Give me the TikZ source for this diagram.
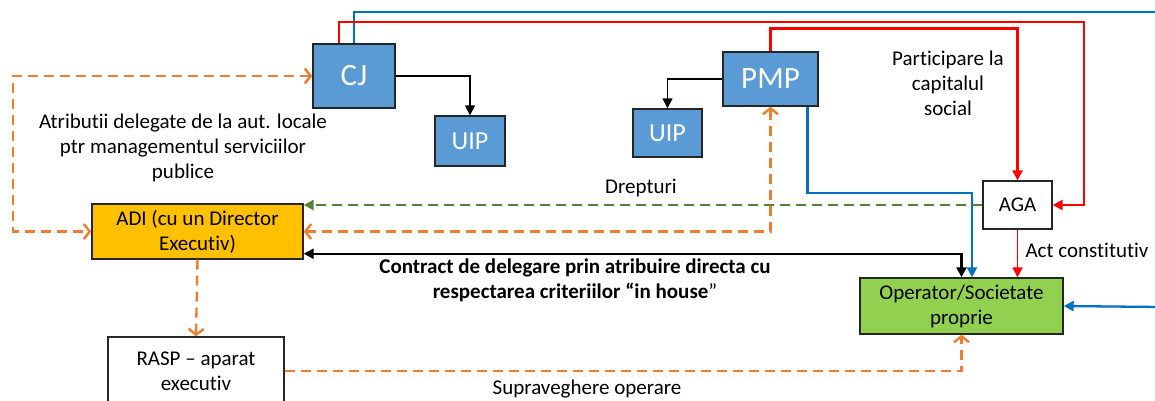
\documentclass[tikz,border=0pt]{standalone}
\usepackage{fontspec}
\setmainfont{Carlito}[Ligatures=CommonOff]
\usetikzlibrary{arrows.meta,calc}
\definecolor{boxblue}{HTML}{5B9BD5}
\definecolor{lineblue}{HTML}{0070C0}
\definecolor{adiyellow}{HTML}{FFC000}
\definecolor{opgreen}{HTML}{92D050}
\definecolor{flowred}{HTML}{FF0000}
\definecolor{flowgreen}{HTML}{548235}
\definecolor{floworange}{HTML}{ED7D31}
\begin{document}
\begin{tikzpicture}[x=1pt, y=-1pt, font=\fontsize{21}{25}\selectfont,
    >={Triangle[length=10pt,width=10pt]},
    box/.style = {draw=black!85, line width=1.4pt, align=center, inner sep=1pt},
    unit/.style = {box, fill=boxblue, text=white},
    conn/.style = {line width=1.5pt},
    redline/.style = {draw=flowred, line width=2.6pt},
    blueline/.style = {draw=lineblue, line width=2.3pt},
    dashline/.style = {line width=2.4pt, dash pattern=on 10pt off 6pt},
    orangeflow/.style = {dashline, draw=floworange, >={Straight Barb[length=6pt,width=15pt]}},
    greenflow/.style = {dashline, draw=flowgreen}]
  \useasboundingbox (0,0) rectangle (1155,400);

  \node[unit, minimum width=82pt, minimum height=64pt, font=\fontsize{31}{33}\selectfont] (cj) at (354,76) {CJ};
  \node[unit, minimum width=70pt, minimum height=50pt, font=\fontsize{26}{28}\selectfont] (uipa) at (470,141) {UIP};
  \node[unit, minimum width=95pt, minimum height=54pt, font=\fontsize{31}{33}\selectfont] (pmp) at (770.5,79) {PMP};
  \node[unit, minimum width=69pt, minimum height=48pt, font=\fontsize{26}{28}\selectfont] (uipb) at (667.5,133) {UIP};
  \node[box, fill=white, minimum width=69pt, minimum height=48pt] (aga) at (1017.5,205) {AGA};
  \node[box, fill=opgreen, minimum width=203pt, minimum height=56pt] (operator) at (961.5,306) {Operator/Societate\\proprie};
  \node[box, fill=adiyellow, minimum width=211pt, minimum height=55pt] (adi) at (197.5,231.5) {ADI (cu un Director\\Executiv)};
  \node[box, fill=white, minimum width=176pt, minimum height=68pt] (rasp) at (196,371) {RASP -- aparat\\executiv};

  \node[align=center] (atributii) at (183,148) {Atributii delegate de la aut. locale\\ptr managementul serviciilor\\publice};
  \node (drepturi) at (641,188) {Drepturi};
  \node[align=center] (participare) at (948,83) {Participare la\\capitalul\\social};
  \node[anchor=west] (act) at (1022,250) {Act constitutiv};
  \node[align=center, font=\fontsize{21}{25}\selectfont\bfseries] (contract) at (575,280) {Contract de delegare prin atribuire directa cu\\respectarea criteriilor \textquotedblleft in house{\mdseries\textquotedblright}};
  \node (supraveghere) at (587,389) {Supraveghere operare};

  \coordinate (topblue) at (1160,12);
  \coordinate (rightblue) at (1160,307);
  \coordinate (leftloop) at (13,0);

  \draw[conn, ->] (cj.east) -| (uipa.north);
  \draw[conn, ->] (pmp.west) -| (uipb.north);
  \draw[blueline] (cj.north) |- (topblue);
  \draw[blueline, ->] (rightblue) -- (operator.east);
  \draw[redline, ->] ($(cj.north)+(-15,0)$) |- (1084,22) |- (aga.east);
  \draw[redline, ->] (pmp.north) |- ($(aga.north |- pmp.north)+(0,-23)$) -- (aga.north);
  \draw[blueline, ->] ($(pmp.south)+(37,0)$) |- (972,193) -- ($(operator.north)+(10.5,0)$);
  \draw[redline, line width=1.8pt, ->] (aga.south) -- (aga.south |- operator.north);
  \draw[conn, line width=2.3pt, <->] ($(adi.south east)+(0,-6)$) -| (operator.north);
  \draw[greenflow, ->] (aga.west) -- (aga.west -| adi.east);
  \draw[orangeflow, <->] (adi.east) -| (pmp.south);
  \draw[orangeflow, <->] (cj.west) -| (leftloop |- adi.west) -- (adi.west);
  \draw[orangeflow, ->] (adi.south) -- (rasp.north);
  \draw[orangeflow, ->] (rasp.east) -| (operator.south);
\end{tikzpicture}
\end{document}
